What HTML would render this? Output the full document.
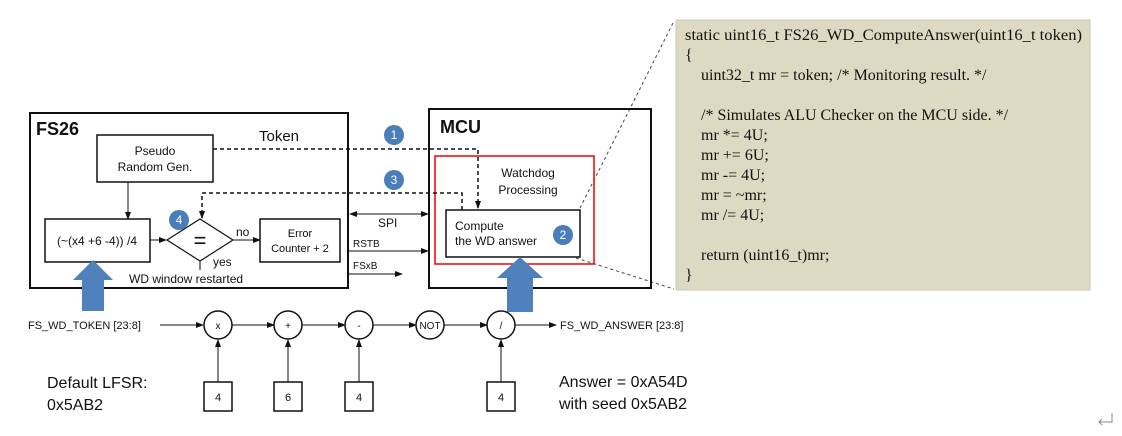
<!DOCTYPE html>
<html><head><meta charset="utf-8"><style>
html,body{margin:0;padding:0;background:#fff;width:1122px;height:436px;overflow:hidden}
svg{display:block}
.s{font-family:"Liberation Sans",Arial,sans-serif;fill:#111}
.c{font-family:"Liberation Serif","Times New Roman",serif;font-size:16px;fill:#111}
</style></head><body>
<svg width="1122" height="436" viewBox="0 0 1122 436" xmlns="http://www.w3.org/2000/svg">
<defs>
<marker id="a" markerWidth="8" markerHeight="8" refX="7" refY="4" orient="auto" markerUnits="userSpaceOnUse"><path d="M0,1 L8,4 L0,7 z" fill="#111"/></marker>
<marker id="as" markerWidth="8" markerHeight="8" refX="1" refY="4" orient="auto" markerUnits="userSpaceOnUse"><path d="M8,1 L0,4 L8,7 z" fill="#111"/></marker>
</defs>

<rect x="676" y="20" width="414" height="270" fill="#ddd9c3" stroke="#ccc8b0"/>
<g class="c">
<text x="685" y="40" textLength="397" lengthAdjust="spacingAndGlyphs">static uint16_t FS26_WD_ComputeAnswer(uint16_t token)</text>
<text x="685" y="60">{</text>
<text x="701" y="80">uint32_t mr = token; /* Monitoring result. */</text>
<text x="701" y="120">/* Simulates ALU Checker on the MCU side. */</text>
<text x="701" y="140">mr *= 4U;</text>
<text x="701" y="160">mr += 6U;</text>
<text x="701" y="180">mr -= 4U;</text>
<text x="701" y="200">mr = ~mr;</text>
<text x="701" y="220">mr /= 4U;</text>
<text x="701" y="260">return (uint16_t)mr;</text>
<text x="685" y="280">}</text>
</g>
<line x1="580" y1="208" x2="673" y2="23" stroke="#444" stroke-dasharray="3,3"/>
<line x1="576" y1="258" x2="674" y2="289" stroke="#444" stroke-dasharray="3,3"/>

<rect x="30" y="113" width="318" height="175" fill="none" stroke="#111" stroke-width="2"/>
<text x="36" y="135" class="s" font-size="18" font-weight="bold">FS26</text>
<text x="259" y="141" class="s" font-size="15">Token</text>
<rect x="97" y="135" width="116" height="47" fill="#fff" stroke="#111" stroke-width="1.5"/>
<text x="155" y="155" class="s" font-size="12" text-anchor="middle">Pseudo</text>
<text x="155" y="171" class="s" font-size="12" text-anchor="middle">Random Gen.</text>
<line x1="128" y1="182" x2="128" y2="219" stroke="#111" marker-end="url(#a)"/>
<rect x="45" y="219" width="105" height="43" fill="#fff" stroke="#111" stroke-width="1.5"/>
<text x="97" y="245" class="s" font-size="12" text-anchor="middle">(~(x4 +6 -4)) /4</text>
<line x1="150" y1="240" x2="166" y2="240" stroke="#111" marker-end="url(#a)"/>
<path d="M167,240 L200,219 L233,240 L200,261 Z" fill="#fff" stroke="#111" stroke-width="1.2"/>
<text x="200" y="248" class="s" font-size="22" text-anchor="middle">=</text>
<line x1="233" y1="240" x2="260" y2="240" stroke="#111" marker-end="url(#a)"/>
<text x="236" y="236" class="s" font-size="12">no</text>
<rect x="260" y="219" width="80" height="43" fill="#fff" stroke="#111" stroke-width="1.5"/>
<text x="300" y="237" class="s" font-size="11" text-anchor="middle">Error</text>
<text x="300" y="252" class="s" font-size="11" text-anchor="middle">Counter + 2</text>
<line x1="200" y1="261" x2="200" y2="270" stroke="#111"/>
<text x="213" y="266" class="s" font-size="12">yes</text>
<text x="129" y="283" class="s" font-size="12">WD window restarted</text>

<rect x="429" y="109" width="222" height="179" fill="none" stroke="#111" stroke-width="2"/>
<text x="440" y="133" class="s" font-size="18" font-weight="bold">MCU</text>
<rect x="435" y="156" width="159" height="108" fill="none" stroke="#e00" stroke-width="1.5"/>
<text x="528" y="177" class="s" font-size="12" text-anchor="middle">Watchdog</text>
<text x="528" y="194" class="s" font-size="12" text-anchor="middle">Processing</text>
<rect x="446" y="210" width="134" height="47" fill="#fff" stroke="#111" stroke-width="1.5"/>
<text x="455" y="230" class="s" font-size="12">Compute</text>
<text x="455" y="245" class="s" font-size="12">the WD answer</text>

<polyline points="213,149 478,149 478,208" fill="none" stroke="#111" stroke-width="1.5" stroke-dasharray="4,3" marker-end="url(#a)"/>
<polyline points="462,210 462,193 202,193 202,218" fill="none" stroke="#111" stroke-width="1.5" stroke-dasharray="4,3" marker-end="url(#a)"/>

<line x1="350" y1="214" x2="428" y2="214" stroke="#111" marker-start="url(#as)" marker-end="url(#a)"/>
<text x="378" y="227" class="s" font-size="12">SPI</text>
<line x1="348" y1="251" x2="428" y2="251" stroke="#111" marker-end="url(#a)"/>
<text x="353" y="247" class="s" font-size="10">RSTB</text>
<line x1="348" y1="274" x2="402" y2="274" stroke="#111" marker-end="url(#a)"/>
<text x="353" y="269" class="s" font-size="10">FSxB</text>

<g fill="#4a7ebb">
<circle cx="394" cy="135" r="10"/><circle cx="394" cy="180" r="10"/>
<circle cx="179" cy="220" r="10"/><circle cx="563" cy="235" r="10"/>
</g>
<g font-family="Liberation Sans,Arial,sans-serif" font-size="12" text-anchor="middle" fill="#fff">
<text x="394" y="139">1</text><text x="394" y="184">3</text>
<text x="179" y="224">4</text><text x="563" y="239">2</text>
</g>

<path d="M93,260 L113,280 L104,280 L104,311 L82,311 L82,280 L73,280 Z" fill="#4f81bd"/>
<path d="M520,257 L543,278 L533,278 L533,312 L507,312 L507,278 L497,278 Z" fill="#4f81bd"/>

<text x="28" y="329" class="s" font-size="11">FS_WD_TOKEN [23:8]</text>
<line x1="160" y1="325" x2="203" y2="325" stroke="#111" marker-end="url(#a)"/>
<line x1="232" y1="325" x2="274" y2="325" stroke="#111" marker-end="url(#a)"/>
<line x1="302" y1="325" x2="345" y2="325" stroke="#111" marker-end="url(#a)"/>
<line x1="373" y1="325" x2="416" y2="325" stroke="#111" marker-end="url(#a)"/>
<line x1="444" y1="325" x2="487" y2="325" stroke="#111" marker-end="url(#a)"/>
<line x1="515" y1="325" x2="556" y2="325" stroke="#111" marker-end="url(#a)"/>
<text x="560" y="329" class="s" font-size="11">FS_WD_ANSWER [23:8]</text>
<g fill="#fff" stroke="#111" stroke-width="1.5">
<circle cx="218" cy="325" r="14"/><circle cx="288" cy="325" r="14"/><circle cx="359" cy="325" r="14"/>
<circle cx="430" cy="325" r="14"/><circle cx="501" cy="325" r="14"/>
</g>
<g class="s" font-size="10" text-anchor="middle">
<text x="218" y="329">x</text><text x="288" y="329">+</text><text x="359" y="329">-</text>
<text x="430" y="329">NOT</text><text x="501" y="329">/</text>
</g>
<g stroke="#111">
<line x1="218" y1="382" x2="218" y2="340" marker-end="url(#a)"/>
<line x1="288" y1="382" x2="288" y2="340" marker-end="url(#a)"/>
<line x1="359" y1="382" x2="359" y2="340" marker-end="url(#a)"/>
<line x1="501" y1="382" x2="501" y2="340" marker-end="url(#a)"/>
</g>
<g fill="#fff" stroke="#111" stroke-width="1.5">
<rect x="204" y="382" width="28" height="29"/><rect x="274" y="382" width="28" height="29"/>
<rect x="345" y="382" width="28" height="29"/><rect x="487" y="382" width="28" height="29"/>
</g>
<g class="s" font-size="11" text-anchor="middle">
<text x="218" y="401">4</text><text x="288" y="401">6</text><text x="359" y="401">4</text><text x="501" y="401">4</text>
</g>
<text x="47" y="388" class="s" font-size="16">Default LFSR:</text>
<text x="47" y="410" class="s" font-size="16">0x5AB2</text>
<text x="559" y="387" class="s" font-size="16">Answer = 0xA54D</text>
<text x="559" y="409" class="s" font-size="16">with seed 0x5AB2</text>

<path d="M1112,413 L1112,422 L1099,422 M1102,419 L1099,422 L1102,425" fill="none" stroke="#888" stroke-width="1"/>
</svg>
</body></html>
